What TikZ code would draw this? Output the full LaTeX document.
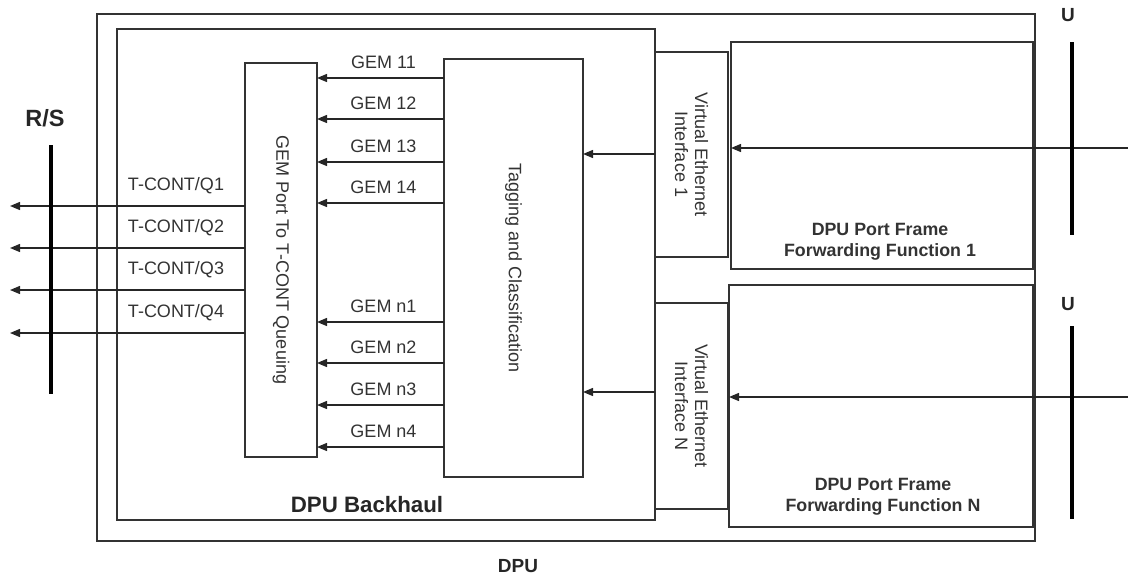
\documentclass[tikz,border=0pt]{standalone}
\usepackage{fontspec}
\setmainfont{Liberation Sans}
\usetikzlibrary{arrows.meta}
\begin{document}
\begin{tikzpicture}[x=1pt,y=-1pt,
  box/.style={draw=black!80, line width=1.4pt, inner sep=0pt, outer sep=0pt, anchor=north west},
  arr/.style={draw=black!85, line width=1.3pt, -{Triangle[length=10pt,width=8pt]}},
  bar/.style={line width=4pt, draw=black},
  lbl/.style={font=\fontsize{18}{20}\selectfont, text=black!80, inner sep=0pt},
  blbl/.style={font=\fontsize{17.8}{21}\selectfont\bfseries, text=black!80, inner sep=0pt, align=center},
  big/.style={font=\fontsize{#1}{#1}\selectfont\bfseries, text=black!85, inner sep=0pt}
]
\useasboundingbox (0,0) rectangle (1128,579);

% boxes
\node[box, minimum width=938pt, minimum height=527pt] (dpu) at (97,14) {};
\node[box, minimum width=538pt, minimum height=491pt] (bh) at (117,29) {};
\node[box, minimum width=72pt, minimum height=394pt] (gem) at (245,63) {};
\node[box, minimum width=139pt, minimum height=418pt] (tag) at (444,59) {};
\node[box, minimum width=73pt, minimum height=205pt] (vei1) at (655,52) {};
\node[box, minimum width=73pt, minimum height=206pt] (veiN) at (655,303) {};
\node[box, minimum width=302pt, minimum height=227pt] (pf1) at (731,42) {};
\node[box, minimum width=304pt, minimum height=242pt] (pfN) at (729,285) {};

% box texts
\node[lbl, rotate=-90] (gemt) at (gem.center) {GEM Port To T-CONT Queuing};
\node[lbl, rotate=-90] (tagt) at (tag.center) {Tagging and Classification};
\node[lbl, rotate=-90, align=center] (vei1t) at (vei1.center) {Virtual Ethernet\\Interface 1};
\node[lbl, rotate=-90, align=center] (veiNt) at (veiN.center) {Virtual Ethernet\\Interface N};
\node[blbl] (pf1t) at (880,242) {DPU Port Frame\\Forwarding Function 1};
\node[blbl] (pfNt) at (883,497) {DPU Port Frame\\Forwarding Function N};
\node[big=22.3] (bht) at (367,505) {DPU Backhaul};
\node[big=19] (dput) at (518,566) {DPU};
\node[big=23.5] (rst) at (45,118) {R/S};
\node[big=19] (u1t) at (1068,15) {U};
\node[big=19] (u2t) at (1068,304) {U};

% GEM arrows
\foreach \y/\t [count=\i] in {78/GEM 11,119/GEM 12,162/GEM 13,203/GEM 14,322/GEM n1,363/GEM n2,405/GEM n3,447/GEM n4} {
  \coordinate (g\i) at (0,\y);
  \draw[arr] (tag.west |- g\i) -- (gem.east |- g\i)
    node[lbl, midway, yshift=16pt, xshift=3pt] {\t};
}

% T-CONT arrows
\foreach \y/\t [count=\i] in {206/{T-CONT/Q1},248/{T-CONT/Q2},290/{T-CONT/Q3},333/{T-CONT/Q4}} {
  \coordinate (t\i) at (10,\y);
  \draw[arr] (gem.west |- t\i) -- (t\i);
  \node[lbl] (tl\i) at (176,\y-20) {\t};
}

% VEI -> Tagging
\coordinate (v1) at (0,154);
\coordinate (vN) at (0,392);
\draw[arr] (vei1.west |- v1) -- (tag.east |- v1);
\draw[arr] (veiN.west |- vN) -- (tag.east |- vN);

% external inputs
\coordinate (in1) at (1128,148);
\coordinate (inN) at (1128,397);
\draw[arr] (in1) -- (pf1.west |- in1);
\draw[arr] (inN) -- (pfN.west |- inN);

% reference points
\coordinate (rsa) at (51,145); \coordinate (rsb) at (51,394);
\coordinate (u1a) at (1072,42); \coordinate (u1b) at (1072,235);
\coordinate (u2a) at (1072,326); \coordinate (u2b) at (1072,519);
\draw[bar] (rsa) -- (rsb);
\draw[bar] (u1a) -- (u1b);
\draw[bar] (u2a) -- (u2b);
\end{tikzpicture}
\end{document}
